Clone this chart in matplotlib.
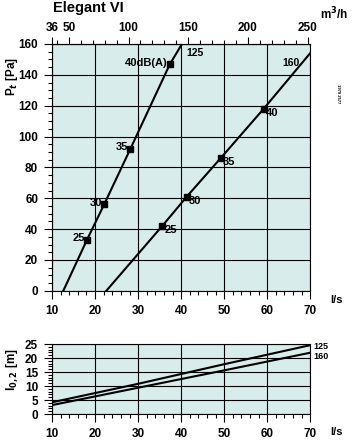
import matplotlib
matplotlib.use("Agg")
import matplotlib.pyplot as plt
from matplotlib.ticker import MultipleLocator, FixedLocator

plt.rcParams['font.family'] = ['Liberation Sans', 'DejaVu Sans']
plt.rcParams['font.weight'] = 'bold'

BG = '#d8edeb'

# pressure drop vs air flow (l/s, Pa)
q125 = [12.6, 18.1, 22.1, 28.2, 37.4, 40.2]
p125 = [0, 33, 56, 92, 147, 160]
q160 = [22.6, 35.6, 41.3, 49.2, 59.2, 70.0]
p160 = [0, 42, 61, 86, 118, 154]

# sound level marks
mq125 = [18.1, 22.1, 28.2, 37.4]
mp125 = [33, 56, 92, 147]
ml125 = ['25', '30', '35', '40dB(A)']
mq160 = [35.6, 41.3, 49.2, 59.2]
mp160 = [42, 61, 86, 118]
ml160 = ['25', '30', '35', '40']

# throw length l0,2 (m)
qt = [10, 30, 50, 70]
l125 = [4.2, 10.8, 17.8, 24.6]
l160 = [3.2, 9.4, 15.6, 21.9]

m3h_ticks = [36, 50, 100, 150, 200, 250]

fig = plt.figure(figsize=(3.52, 4.4), dpi=100)
ax = fig.add_axes([0.148, 0.339, 0.733, 0.561])
ax2 = fig.add_axes([0.148, 0.059, 0.733, 0.159])

for a in (ax, ax2):
    a.set_facecolor(BG)
    a.set_xlim(10, 70)
    a.xaxis.set_major_locator(MultipleLocator(10))
    a.xaxis.set_minor_locator(MultipleLocator(2))
    a.grid(True, color='black', linewidth=0.8)
    a.set_axisbelow(True)
    a.tick_params(which='major', length=6, width=0.8, labelsize=8.5, pad=4)
    a.tick_params(which='minor', length=3, width=0.8)
    for s in a.spines.values():
        s.set_linewidth(0.8)

# top chart
ax.set_ylim(0, 160)
ax.yaxis.set_major_locator(MultipleLocator(20))
ax.yaxis.set_minor_locator(MultipleLocator(5))
ax.plot(q125, p125, color='black', linewidth=1.5)
ax.plot(q160, p160, color='black', linewidth=1.5)
ax.plot(mq125, mp125, 's', color='black', markersize=4)
ax.plot(mq160, mp160, 's', color='black', markersize=4)
for x, y, t in zip(mq125, mp125, ml125):
    ax.text(x - 0.5, y + 1, t, ha='right', va='center', fontsize=8)
for x, y, t in zip(mq160, mp160, ml160):
    ax.text(x + 0.6, y - 2.5, t, ha='left', va='center', fontsize=8)
ax.text(41.3, 154, '125', ha='left', va='center', fontsize=7.5)
ax.text(67.5, 147.5, '160', ha='right', va='center', fontsize=7.5)

sec = ax.secondary_xaxis('top', functions=(lambda q: q * 3.6, lambda m: m / 3.6))
sec.xaxis.set_major_locator(FixedLocator(m3h_ticks))
sec.xaxis.set_minor_locator(MultipleLocator(10))
sec.tick_params(which='major', length=5, width=0.8, labelsize=8.5, pad=2)
sec.tick_params(which='minor', length=3, width=0.8)

# bottom chart
ax2.set_ylim(0, 25)
ax2.yaxis.set_major_locator(MultipleLocator(5))
ax2.yaxis.set_minor_locator(MultipleLocator(1))
ax2.plot(qt, l125, color='black', linewidth=1.5)
ax2.plot(qt, l160, color='black', linewidth=1.5)
ax2.text(70.8, 24.3, '125', ha='left', va='center', fontsize=6.5, clip_on=False)
ax2.text(70.8, 20.5, '160', ha='left', va='center', fontsize=6.5, clip_on=False)

fig.text(53 / 352, 1 - 8 / 440, 'Elegant VI', fontsize=10.5, ha='left', va='center')
fig.text(320 / 352, 1 - 14 / 440, 'm$^3$/h', fontsize=8.5, ha='left', va='center')
fig.text(12 / 352, 1 - 76 / 440, 'P$_t$ [Pa]', fontsize=8.5, rotation=90,
         ha='center', va='center')
fig.text(12 / 352, 1 - 370 / 440, 'l$_{0,2}$ [m]', fontsize=8.5, rotation=90,
         ha='center', va='center')
fig.text(330 / 352, 1 - 300 / 440, 'l/s', fontsize=8, ha='left', va='center')
fig.text(330 / 352, 1 - 432 / 440, 'l/s', fontsize=8, ha='left', va='center')
fig.text(338 / 352, 1 - 94 / 440, '1979 2577', fontsize=3, rotation=270,
         ha='center', va='center')

fig.savefig('out.png', dpi=100)
